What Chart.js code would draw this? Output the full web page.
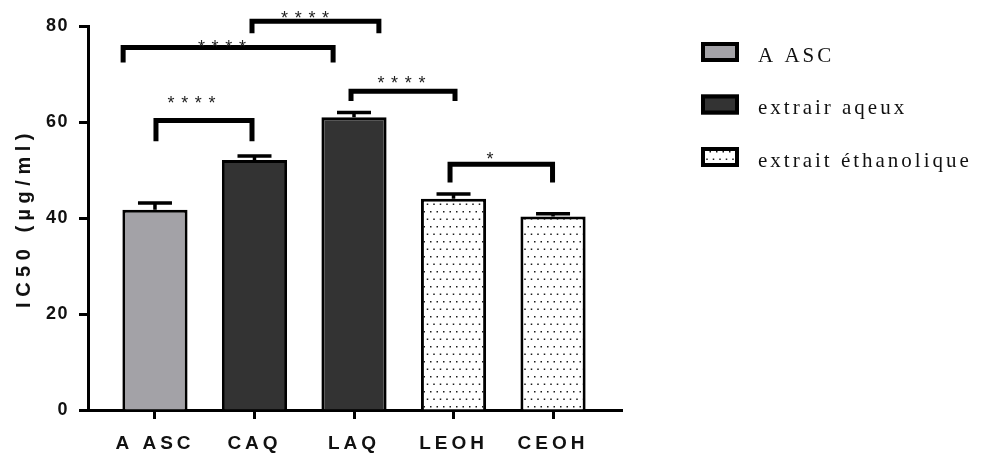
<!DOCTYPE html>
<html>
<head>
<meta charset="utf-8">
<title>IC50</title>
<script src="https://cdn.jsdelivr.net/npm/chart.js@4/dist/chart.umd.min.js"></script>
<style>
  html, body { margin: 0; padding: 0; background: #fff; }
  #wrap { width: 989px; height: 456px; }
</style>
</head>
<body>
<div id="wrap"><canvas id="chart" width="989" height="456"></canvas></div>
<script>
// Groups on the x axis and their IC50 (mean, SD) in µg/ml
const categories = ['A ASC', 'CAQ', 'LAQ', 'LEOH', 'CEOH'];
const ic50Mean = [41.7, 52.1, 61.0, 44.0, 40.3];
const ic50Sd = [1.4, 0.8, 1.0, 1.0, 0.6];

// Legend series and the series each group belongs to
const seriesNames = ['A ASC', 'extrair aqeux', 'extrait éthanolique'];
const seriesOfCategory = [0, 1, 1, 2, 2];

const yTicks = [0, 20, 40, 60, 80];

// Significance brackets: ends in category units, levels in µg/ml
const sigFrom = [0.01, -0.32, 0.975, 1.97, 2.965];
const sigTo = [0.975, 1.79, 2.25, 3.015, 3.995];
const sigLevel = [60.3, 75.5, 81.0, 66.4, 51.2];
const sigLegEnd = [56.0, 72.4, 78.5, 64.4, 47.4];
const sigStars = ['****', '****', '****', '****', '*'];
const sigLabelX = [0.367, 0.673, 1.508, 2.477, 3.367];
const sigLabelY = [64.8, 76.5, 82.6, 69.0, 53.2];

const SANS = "'Liberation Sans', Arial, sans-serif";
const SERIF = "'Liberation Serif', 'Times New Roman', serif";

// Staggered dot texture for the ethanolic extract bars
function dotPattern() {
  const tile = document.createElement('canvas');
  tile.width = 13;
  tile.height = 15;
  const t = tile.getContext('2d');
  t.fillStyle = '#ffffff';
  t.fillRect(0, 0, 13, 15);
  t.fillStyle = '#1a1a1a';
  [[1, 1], [7.5, 1], [4.25, 8.5], [10.75, 8.5]].forEach(([px, py]) => t.fillRect(px, py, 1.5, 1.5));
  return document.getElementById('chart').getContext('2d').createPattern(tile, 'repeat');
}

const fills = ['#a3a2a7', '#333333', dotPattern()];

const datasets = seriesNames.map((name, s) => ({
  label: name,
  data: categories
    .map((_, i) => i)
    .filter(i => seriesOfCategory[i] === s)
    .map(i => ({ x: i, y: ic50Mean[i] })),
  backgroundColor: fills[s],
  borderColor: '#000000',
  borderWidth: 3,
  borderSkipped: 'start',
  grouped: false,
  categoryPercentage: 1,
  barPercentage: 0.655
}));

// Per-element letter spacing for axis text
const textSpacing = {
  id: 'textSpacing',
  beforeDraw(chart) {
    const spacing = { x: { drawLabels: '4px' }, y: { drawLabels: '1.5px', drawTitle: '5.5px' } };
    for (const [id, parts] of Object.entries(spacing)) {
      const scale = chart.scales[id];
      if (!scale || scale.$spaced) continue;
      scale.$spaced = true;
      for (const [fn, value] of Object.entries(parts)) {
        const orig = scale[fn];
        scale[fn] = function (...args) {
          const ctx = this.ctx;
          const prev = ctx.letterSpacing;
          ctx.letterSpacing = value;
          orig.apply(this, args);
          ctx.letterSpacing = prev;
        };
      }
    }
  }
};

// Error bars (mean + SD) and significance brackets
const annotations = {
  id: 'annotations',
  afterDatasetsDraw(chart) {
    const { ctx } = chart;
    const x = chart.scales.x;
    const y = chart.scales.y;
    ctx.save();
    ctx.strokeStyle = '#000000';
    ctx.lineCap = 'butt';
    ctx.lineWidth = 3.5;
    categories.forEach((_, i) => {
      const cx = x.getPixelForValue(i);
      const base = y.getPixelForValue(ic50Mean[i]);
      const top = y.getPixelForValue(ic50Mean[i] + ic50Sd[i]);
      ctx.beginPath();
      ctx.moveTo(cx, base);
      ctx.lineTo(cx, top);
      ctx.moveTo(cx - 17, top);
      ctx.lineTo(cx + 17, top);
      ctx.stroke();
    });

    ctx.lineWidth = 5;
    ctx.lineJoin = 'miter';
    const starSize = 18;
    ctx.font = `${starSize}px ${SANS}`;
    ctx.textAlign = 'center';
    ctx.textBaseline = 'alphabetic';
    sigFrom.forEach((from, k) => {
      const x1 = x.getPixelForValue(from);
      const x2 = x.getPixelForValue(sigTo[k]);
      const yl = y.getPixelForValue(sigLevel[k]);
      const yb = y.getPixelForValue(sigLegEnd[k]);
      ctx.beginPath();
      ctx.moveTo(x1, yb);
      ctx.lineTo(x1, yl);
      ctx.lineTo(x2, yl);
      ctx.lineTo(x2, yb);
      ctx.stroke();

      const stars = sigStars[k];
      const n = stars.length;
      const pitch = 13.7;
      const cx = x.getPixelForValue(sigLabelX[k]);
      const cy = y.getPixelForValue(sigLabelY[k]);
      ctx.fillStyle = '#1e1e1e';
      for (let j = 0; j < n; j++) {
        ctx.fillText(stars[j], cx + (j - (n - 1) / 2) * pitch, cy + 0.58 * starSize);
      }
    });
    ctx.restore();
  }
};

// Legend drawn to the right of the plot
const sideLegend = {
  id: 'sideLegend',
  afterDraw(chart) {
    const { ctx, chartArea } = chart;
    const bx = chartArea.right + 79;
    ctx.save();
    chart.data.datasets.forEach((ds, k) => {
      const top = 42 + k * 52.5;
      ctx.fillStyle = ds.backgroundColor;
      ctx.fillRect(bx, top, 38, 20);
      ctx.lineWidth = 4;
      ctx.strokeStyle = '#000000';
      ctx.strokeRect(bx + 2, top + 2, 34, 16);
      ctx.letterSpacing = '3px';
      ctx.font = `21px ${SERIF}`;
      ctx.fillStyle = '#111111';
      ctx.textAlign = 'left';
      ctx.textBaseline = 'alphabetic';
      ctx.fillText(ds.label, bx + 57, top + 19.5);
    });
    ctx.restore();
  }
};

const axisBorder = { display: true, color: '#000000', width: 3 };

new Chart(document.getElementById('chart'), {
  type: 'bar',
  data: { datasets },
  options: {
    responsive: false,
    devicePixelRatio: 1,
    animation: false,
    layout: { padding: { left: 0, right: 367, top: 26, bottom: 0 } },
    plugins: {
      legend: { display: false },
      tooltip: { enabled: false }
    },
    scales: {
      x: {
        type: 'linear',
        offset: false,
        min: -0.673,
        max: 4.693,
        afterBuildTicks: s => { s.ticks = categories.map((_, i) => ({ value: i })); },
        afterFit: s => { s.height = 46; },
        ticks: {
          callback: v => categories[v] ?? '',
          font: { family: SANS, size: 19, weight: 'bold' },
          color: '#111111',
          padding: 13,
          autoSkip: false,
          maxRotation: 0
        },
        grid: {
          offset: false,
          drawOnChartArea: false,
          drawTicks: true,
          tickLength: 9,
          tickWidth: 3,
          tickColor: '#000000'
        },
        border: axisBorder
      },
      y: {
        min: 0,
        max: 80,
        afterBuildTicks: s => { s.ticks = yTicks.map(v => ({ value: v })); },
        afterFit: s => { s.width = 88; },
        ticks: {
          font: { family: SANS, size: 18, weight: 'bold' },
          color: '#111111',
          padding: 10
        },
        grid: {
          drawOnChartArea: false,
          drawTicks: true,
          tickLength: 9,
          tickWidth: 3,
          tickColor: '#000000'
        },
        border: axisBorder,
        title: {
          display: true,
          text: 'IC50 (µg/ml)',
          font: { family: SANS, size: 20, weight: 'bold' },
          color: '#111111',
          padding: { top: 12, bottom: 0 }
        }
      }
    }
  },
  plugins: [textSpacing, annotations, sideLegend]
});
</script>
</body>
</html>
